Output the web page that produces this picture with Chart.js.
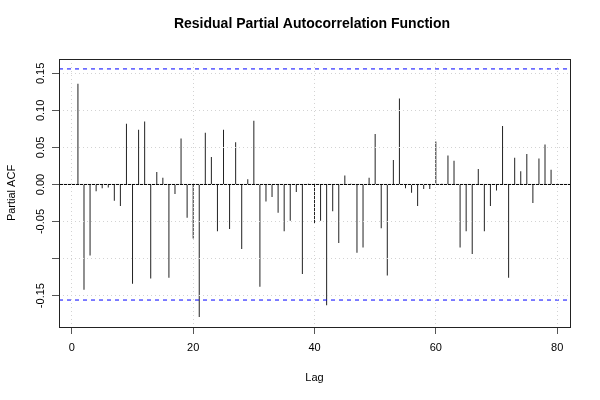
<!DOCTYPE html>
<html>
<head>
<meta charset="utf-8">
<script src="https://cdn.jsdelivr.net/npm/chart.js@4/dist/chart.umd.min.js"></script>
<style>
html,body{margin:0;padding:0;background:#fff;}
#wrap{width:600px;height:400px;position:relative;}
</style>
</head>
<body>
<div id="wrap"><canvas id="c" width="600" height="400"></canvas></div>
<script>
const chartTitle = 'Residual Partial Autocorrelation Function';
const xAxisTitle = 'Lag';
const yAxisTitle = 'Partial ACF';
const lags = [1,2,3,4,5,6,7,8,9,10,11,12,13,14,15,16,17,18,19,20,21,22,23,24,25,26,27,28,29,30,31,32,33,34,35,36,37,38,39,40,41,42,43,44,45,46,47,48,49,50,51,52,53,54,55,56,57,58,59,60,61,62,63,64,65,66,67,68,69,70,71,72,73,74,75,76,77,78,79];
const pacfValues = [0.136,-0.142,-0.096,-0.009,-0.005,-0.004,-0.022,-0.029,0.082,-0.134,
  0.074,0.085,-0.127,0.017,0.009,-0.126,-0.013,0.062,-0.045,-0.073,
  -0.179,0.070,0.037,-0.063,0.074,-0.060,0.057,-0.087,0.007,0.086,
  -0.138,-0.023,-0.017,-0.038,-0.063,-0.049,-0.010,-0.121,0.001,-0.052,
  -0.049,-0.163,-0.036,-0.079,0.012,0.001,-0.092,-0.085,0.009,0.068,
  -0.059,-0.123,0.033,0.116,-0.005,-0.011,-0.029,-0.006,-0.006,0.058,
  0.001,0.039,0.032,-0.085,-0.063,-0.094,0.021,-0.063,-0.029,-0.008,
  0.079,-0.126,0.036,0.018,0.041,-0.025,0.035,0.054,0.020];
const ciBound = 0.156;
const xTickValues = [0,20,40,60,80];
const xTickLabels = ['0','20','40','60','80'];
const yTickValues = [-0.15,-0.10,-0.05,0,0.05,0.10,0.15];
const yTickLabels = ['-0.15','','-0.05','0.00','0.05','0.10','0.15'];
const xRange = [-2.12, 82.12];
const yRange = [-0.1924, 0.1694];

const FONT = '"Liberation Sans", Arial, Helvetica, sans-serif';

const barData = lags.map((l,i)=>({x:l, y:pacfValues[i]}));
const hLine = v => [{x:xRange[0], y:v},{x:xRange[1], y:v}];

const decor = {
  id:'decor',
  afterDraw(chart){
    const {ctx, chartArea:a, scales:{x, y}} = chart;
    ctx.save();
    ctx.strokeStyle = '#222';
    ctx.lineWidth = 1;
    ctx.setLineDash([]);
    ctx.strokeRect(Math.round(a.left)+0.5, Math.round(a.top)+0.5, Math.round(a.right-a.left), Math.round(a.bottom-a.top));
    ctx.fillStyle = '#000';
    ctx.font = 'bold 14px ' + FONT;
    ctx.textAlign = 'center';
    ctx.textBaseline = 'middle';
    ctx.fillText(chartTitle, 312, 24);
    ctx.font = '11px ' + FONT;
    xTickValues.forEach((v,i)=>{
      ctx.fillText(xTickLabels[i], x.getPixelForValue(v), 348);
    });
    ctx.fillText(xAxisTitle, (a.left+a.right)/2, 378);
    yTickValues.forEach((v,i)=>{
      if(!yTickLabels[i]) return;
      ctx.save();
      ctx.translate(41, y.getPixelForValue(v));
      ctx.rotate(-Math.PI/2);
      ctx.fillText(yTickLabels[i], 0, 0);
      ctx.restore();
    });
    ctx.save();
    ctx.translate(12, (a.top+a.bottom)/2);
    ctx.rotate(-Math.PI/2);
    ctx.fillText(yAxisTitle, 0, 0);
    ctx.restore();
    ctx.restore();
  }
};

new Chart(document.getElementById('c'), {
  type:'bar',
  data:{
    datasets:[
      {type:'line', data:hLine(0), borderColor:'#000', borderWidth:1, pointRadius:0, order:3},
      {type:'bar', data:barData, backgroundColor:'#222', borderWidth:0, barThickness:1, inflateAmount:0, order:2},
      {type:'line', data:hLine(ciBound), borderColor:'#0000ff', borderWidth:1, borderDash:[4,4], pointRadius:0, order:1},
      {type:'line', data:hLine(-ciBound), borderColor:'#0000ff', borderWidth:1, borderDash:[4,4], pointRadius:0, order:1}
    ]
  },
  options:{
    responsive:false,
    animation:false,
    events:[],
    layout:{padding:{left:0, right:30, top:59, bottom:0}},
    plugins:{legend:{display:false}, title:{display:false}, tooltip:{enabled:false}},
    scales:{
      x:{
        type:'linear', min:xRange[0], max:xRange[1], offset:false,
        afterBuildTicks:s=>{ s.ticks = xTickValues.map(v=>({value:v})); },
        afterFit:s=>{ s.height = 73; },
        ticks:{display:false},
        grid:{offset:false, color:'#d3d3d3', lineWidth:1, z:1, drawTicks:true, tickLength:7, tickColor:'#555', tickWidth:1},
        border:{display:false, dash:[1,3]}
      },
      y:{
        type:'linear', min:yRange[0], max:yRange[1],
        afterBuildTicks:s=>{ s.ticks = yTickValues.map(v=>({value:v})); },
        afterFit:s=>{ s.width = 59; },
        ticks:{display:false},
        grid:{offset:false, color:'#d3d3d3', lineWidth:1, z:1, drawTicks:true, tickLength:7, tickColor:'#555', tickWidth:1},
        border:{display:false, dash:[1,3]}
      }
    }
  },
  plugins:[decor]
});
</script>
</body>
</html>
